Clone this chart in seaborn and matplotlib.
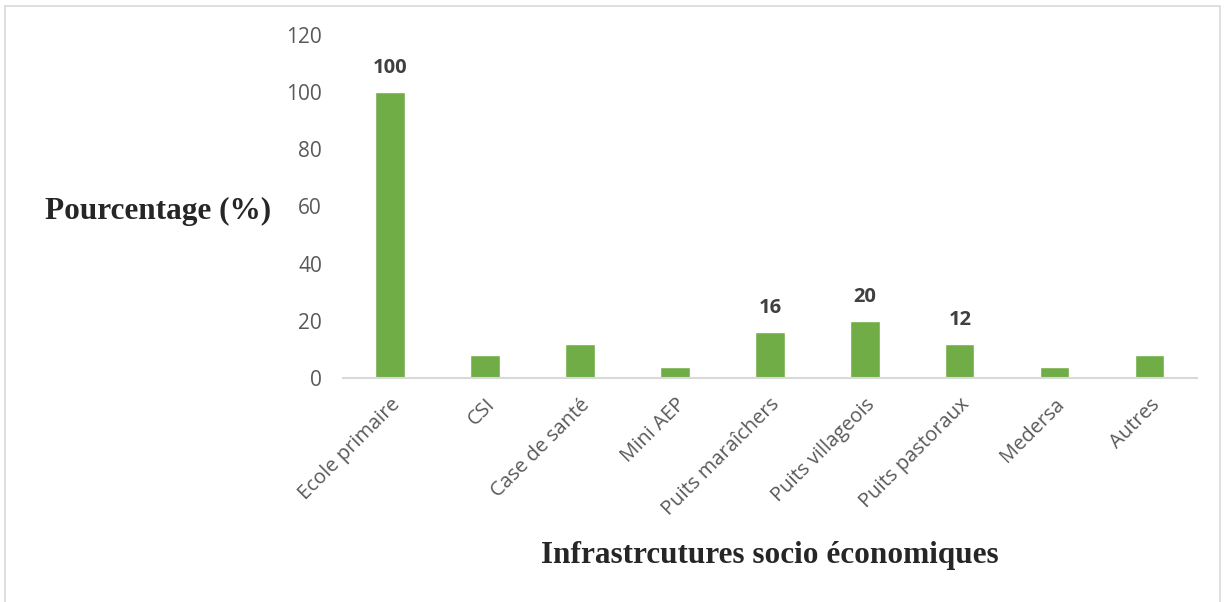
import pandas as pd
import seaborn as sb
from matplotlib import pyplot as plt
from matplotlib.patches import Rectangle

# data
categories = ["Ecole primaire", "CSI", "Case de santé", "Mini AEP", "Puits maraîchers",
              "Puits villageois", "Puits pastoraux", "Medersa", "Autres"]
values = [100, 8, 12, 4, 16, 20, 12, 4, 8]
labelled = ["Ecole primaire", "Puits maraîchers", "Puits villageois", "Puits pastoraux"]

df = pd.DataFrame({"infra": categories, "pct": values})

sb.set_style("white")
plt.rcParams['font.family'] = ['Open Sans', 'DejaVu Sans']

fig = plt.figure(figsize=(12.24, 6.02), dpi=100)
ax = fig.add_axes([0.280, 0.372, 0.698, 0.570])

sb.barplot(data=df, x="infra", y="pct", color="#70AD47", saturation=1, width=0.31, ax=ax)

# data labels only on some bars
for i, (cat, v) in enumerate(zip(categories, values)):
    if cat in labelled:
        ax.annotate(str(v), (i, v), xytext=(0, 10), textcoords="offset points",
                    ha="center", va="bottom", fontsize=14.5, fontweight="bold", color="#404040")

ax.set_ylim(0, 120)
ax.set_yticks(range(0, 121, 20))
ax.set_xlim(-0.5, len(categories) - 0.5)
ax.tick_params(axis="y", labelsize=15, labelcolor="#595959", length=0, pad=15)
ax.tick_params(axis="x", labelsize=14.5, labelcolor="#595959", length=0, pad=12)
plt.setp(ax.get_xticklabels(), rotation=45, ha="right", rotation_mode="anchor")

for s in ["top", "right", "left"]:
    ax.spines[s].set_visible(False)
ax.spines["bottom"].set_color("#D9D9D9")
ax.spines["bottom"].set_linewidth(1.5)

ax.set_xlabel("")
ax.set_ylabel("")
fig.text(0.037, 0.648, "Pourcentage (%)", fontsize=22.5, fontweight="bold",
         family="Liberation Serif", va="center", ha="left")
fig.text(0.629, 0.078, "Infrastrcutures socio économiques", fontsize=22.5, fontweight="bold",
         family="Liberation Serif", va="center", ha="center")

# light frame around the figure
fig.patches.append(Rectangle((0.004, -0.01), 0.993, 1.0, transform=fig.transFigure,
                             fill=False, edgecolor="#D9D9D9", linewidth=1.2))

plt.savefig("out.png", dpi=100)
plt.close()
